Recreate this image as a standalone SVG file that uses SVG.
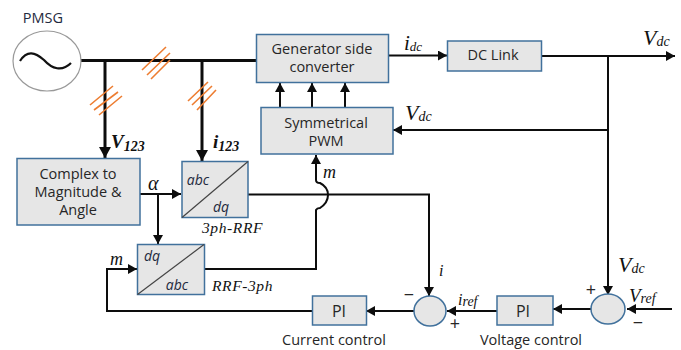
<svg xmlns="http://www.w3.org/2000/svg" width="681" height="350" viewBox="0 0 681 350">
<style>
.box{fill:#e6e6e6;stroke:#41719c;stroke-width:1.5}
.t{font-family:"Open Sans","Noto Sans",sans-serif;font-size:14.500px;fill:#262626;text-anchor:middle}
.s{font-family:"Open Sans","Noto Sans",sans-serif;font-size:14px;font-style:italic;fill:#1f2a40;text-anchor:middle}
.m{font-family:"Liberation Serif",serif;font-style:italic;fill:#111}
.b{font-weight:bold}
.w{fill:none;stroke:#0d0d0d;stroke-width:2}
.bus{fill:none;stroke:#0d0d0d;stroke-width:3}
.h{fill:none;stroke:#ed7d31;stroke-width:1.6}
.d{stroke:#444;stroke-width:1.2}
</style>
<defs>
<marker id="a" markerUnits="userSpaceOnUse" markerWidth="10" markerHeight="10" refX="9" refY="5" orient="auto"><path d="M0,0L9,5L0,10Z" fill="#0d0d0d"/></marker>
<marker id="A" markerUnits="userSpaceOnUse" markerWidth="12" markerHeight="12" refX="11" refY="6" orient="auto"><path d="M0,0L11,6L0,12Z" fill="#0d0d0d"/></marker>
</defs>
<g id="connectors">
<path class="bus" d="M80,60.500H256"/>
<path class="bus" marker-end="url(#A)" d="M105,61V158"/>
<path class="bus" marker-end="url(#A)" d="M202,61V161"/>
<path class="w" marker-end="url(#a)" d="M388,55.500H447"/>
<path class="w" marker-end="url(#a)" d="M541,56H675"/>
<path class="w" d="M608,56V130"/>
<path class="w" marker-end="url(#a)" d="M608,130H393"/>
<path class="w" marker-end="url(#a)" d="M608,130V295"/>
<path class="w" marker-end="url(#a)" d="M280,107V83"/>
<path class="w" marker-end="url(#a)" d="M312,107V83"/>
<path class="w" marker-end="url(#a)" d="M345,107V83"/>
<path class="w" marker-end="url(#a)" d="M140,194H181"/>
<path class="w" marker-end="url(#a)" d="M158,194V244"/>
<path class="w" marker-end="url(#a)" d="M248,194.500H429V296"/>
<path class="w" marker-end="url(#a)" d="M204,269H316V210Q317,208 320,208C326,204 328,200 328,195C328,190 326,186 320,183Q316,183 316,180V155"/>
<path class="w" marker-end="url(#a)" d="M312,311H107V269H137"/>
<path class="w" marker-end="url(#a)" d="M414,311H366"/>
<path class="w" marker-end="url(#a)" d="M497,311H447"/>
<path class="w" marker-end="url(#a)" d="M593,309H553"/>
<path class="w" marker-end="url(#a)" d="M672,309H627"/>
<path class="h" d="M142,70L166,47M147,75L170,53M151,79L170,60"/>
<path class="h" d="M90,105L113,86M94,110L118,92M99,115L122,96"/>
<path class="h" d="M188,101L208,82M192,105L212,86M197,110L216,90"/>
</g>
<g id="pmsg">
<ellipse cx="47" cy="61" rx="34" ry="30" fill="#fff" stroke="#999" stroke-width="1.2"/>
<path d="M20,61C27,50 35,52 44,60C52,69 62,72 71,63" fill="none" stroke="#111" stroke-width="2.2"/>
<text class="t" x="43" y="23" style="fill:#1f2a40">PMSG</text>
</g>
<g id="gen"><rect class="box" x="256.500" y="34.500" width="132" height="48"/><text class="t" x="322" y="54">Generator side</text><text class="t" x="322" y="72">converter</text></g>
<g id="dclink"><rect class="box" x="447.500" y="41" width="94" height="30"/><text class="t" x="493" y="60">DC Link</text></g>
<g id="pwm"><rect class="box" x="261" y="107.500" width="132" height="46.500"/><text class="t" x="326" y="128">Symmetrical</text><text class="t" x="326" y="146">PWM</text></g>
<g id="complex"><rect class="box" x="17" y="158.500" width="123" height="66.500"/><text class="t" x="78" y="179">Complex to</text><text class="t" x="78" y="197">Magnitude &amp;</text><text class="t" x="78" y="215">Angle</text></g>
<g id="abcdq"><rect class="box" x="182" y="161.500" width="66" height="56"/><line class="d" x1="182" y1="217.500" x2="248" y2="161.500"/><text class="s" x="198" y="185">abc</text><text class="s" x="221" y="212">dq</text></g>
<g id="dqabc"><rect class="box" x="137.500" y="244.500" width="67" height="50"/><line class="d" x1="137.500" y1="294.500" x2="204" y2="244.500"/><text class="s" x="152" y="261">dq</text><text class="s" x="177" y="290">abc</text></g>
<g id="pi1"><rect class="box" x="312.500" y="296" width="54" height="29"/><text class="t" x="339" y="317" style="font-size:16px">PI</text></g>
<g id="pi2"><rect class="box" x="497" y="296" width="56" height="29"/><text class="t" x="523" y="317" style="font-size:16px">PI</text></g>
<g id="sum1"><ellipse cx="430" cy="311" rx="16" ry="15" fill="#e6e6e6" stroke="#41719c" stroke-width="1.5"/></g>
<g id="sum2"><ellipse cx="608" cy="309" rx="17" ry="15" fill="#e6e6e6" stroke="#41719c" stroke-width="1.5"/></g>
<g id="labels">
<text class="m b" x="111" y="148" font-size="19">V<tspan font-size="14" dy="3">123</tspan></text>
<text class="m b" x="213" y="148" font-size="19">i<tspan font-size="14" dy="3">123</tspan></text>
<text class="m" x="404" y="50" font-size="21">i<tspan font-size="13" dy="1">dc</tspan></text>
<text class="m" x="643" y="45" font-size="22">V<tspan font-size="14" dy="1">dc</tspan></text>
<text class="m" x="405" y="120" font-size="22">V<tspan font-size="14" dy="1">dc</tspan></text>
<text class="m" x="148" y="190" font-size="20">α</text>
<text class="m" x="323" y="178" font-size="18">m</text>
<text class="m" x="110" y="265" font-size="18">m</text>
<text class="m" x="202" y="233" font-size="15.500" letter-spacing=".6">3ph-RRF</text>
<text class="m" x="212" y="291" font-size="15.500" letter-spacing=".6">RRF-3ph</text>
<text class="m" x="439" y="276" font-size="16">i</text>
<text class="m" x="458" y="305" font-size="16">i<tspan font-size="14" dy="1">ref</tspan></text>
<text class="m" x="618" y="272" font-size="22">V<tspan font-size="14" dy="1">dc</tspan></text>
<text class="m" x="629" y="302" font-size="19">V<tspan font-size="14" dy="1">ref</tspan></text>
<text class="t" x="334" y="345">Current control</text>
<text class="t" x="531" y="345">Voltage control</text>
<text class="t" x="591" y="296" style="font-size:18px">+</text>
<text class="t" x="455" y="330" style="font-size:18px">+</text>
<text class="t" x="409" y="301" style="font-size:18px">−</text>
<text class="t" x="638" y="329" style="font-size:18px">−</text>
</g>
</svg>
